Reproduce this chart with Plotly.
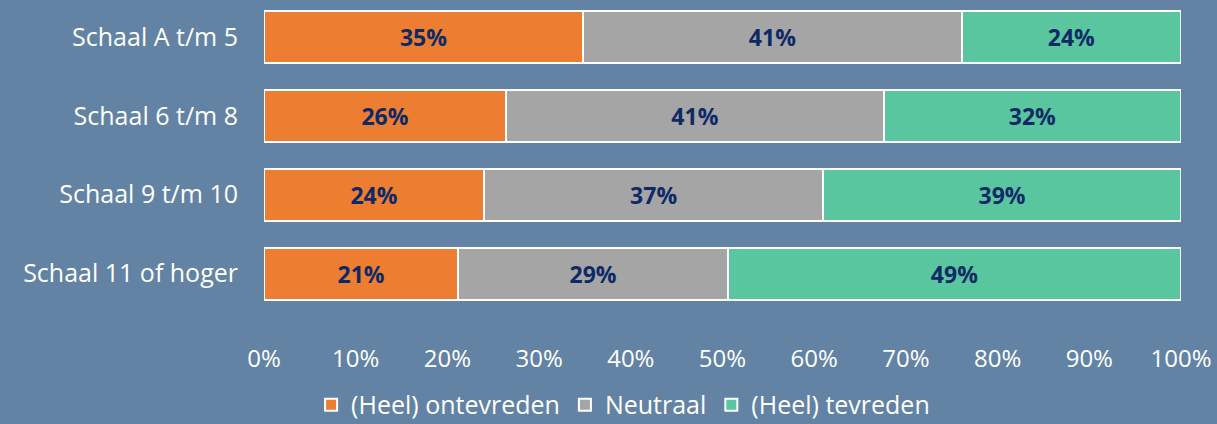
import plotly.graph_objects as go

categories = ["Schaal A t/m 5", "Schaal 6 t/m 8", "Schaal 9 t/m 10", "Schaal 11 of hoger"]
series_names = ["(Heel) ontevreden", "Neutraal", "(Heel) tevreden"]
ontevreden = [34.8, 26.4, 24.0, 21.2]
neutraal = [41.3, 41.2, 37.0, 29.4]
tevreden = [23.9, 32.4, 39.0, 49.4]
colors = ["#ED7D31", "#A5A5A5", "#5AC6A0"]
x_ticks = [0, 10, 20, 30, 40, 50, 60, 70, 80, 90, 100]

BG = "#6283A3"
FONT = "Open Sans"
fig = go.Figure()
for name, vals, col in zip(series_names, [ontevreden, neutraal, tevreden], colors):
    fig.add_trace(go.Bar(
        y=categories, x=vals, name=name, orientation="h",
        marker=dict(color=col, line=dict(color="white", width=2)),
        text=[f"{round(v)}%" for v in vals], textposition="inside",
        insidetextanchor="middle",
        textfont=dict(family=FONT, size=23, color="#0E2A66", weight="bold"),
    ))

fig.update_layout(
    barmode="stack", bargap=0.342,
    width=1217, height=424,
    paper_bgcolor=BG, plot_bgcolor=BG,
    margin=dict(l=264, r=36, t=0, b=110.5),
    font=dict(family=FONT, size=24, color="white"),
    legend=dict(orientation="h", xref="container", x=0.512, xanchor="center",
                yref="container", y=0.045, yanchor="middle",
                font=dict(family=FONT, size=25, color="white"), itemwidth=30,
                traceorder="normal"),
    showlegend=True,
    uniformtext=dict(mode="show", minsize=10),
)
fig.update_xaxes(range=[0, 100], tickvals=x_ticks, ticktext=[f"{t}%" for t in x_ticks],
                 showgrid=False, zeroline=False, showline=False,
                 ticklabelstandoff=29, tickfont=dict(family=FONT, size=24, color="white"))
fig.update_yaxes(categoryorder="array", categoryarray=categories, range=[3.5, -0.468],
                 showgrid=False, zeroline=False, ticklabelstandoff=25,
                 tickfont=dict(family=FONT, size=25, color="white"))

fig.write_html("out.html", config={"displayModeBar": False},
               post_script="document.body.style.margin='0px';")
